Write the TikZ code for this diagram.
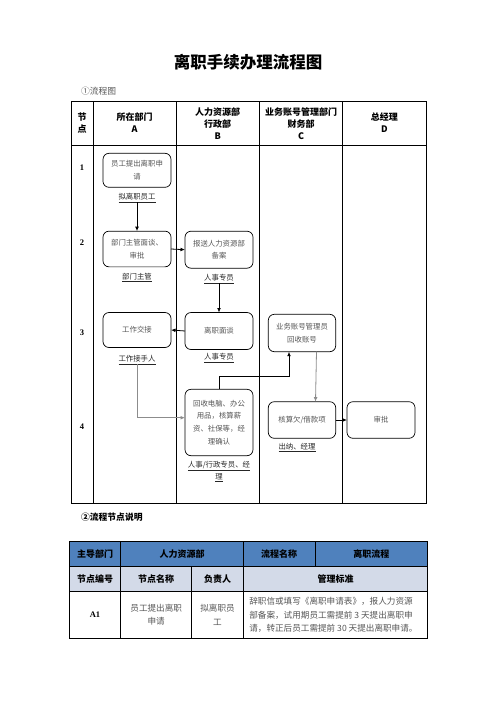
\documentclass[tikz,border=0pt]{standalone}
\usepackage{fontspec}
\setmainfont{Liberation Serif}
\newfontfamily\cjk{Noto Sans CJK SC}
\usetikzlibrary{arrows.meta}
\definecolor{hdrblue}{HTML}{4F81BD}
\definecolor{hdrlight}{HTML}{D3DAE8}
\definecolor{boxtext}{HTML}{555555}
\begin{document}
\begin{tikzpicture}[x=1pt,y=-1pt,
  every node/.style={inner sep=0pt, outer sep=0pt},
  flowbox/.style={draw, rounded corners=6pt, line width=0.7pt, text=boxtext,
    font=\cjk\fontsize{7.4}{12.8}\selectfont, align=center,
    minimum width=68pt},
  who/.style={font=\cjk\fontsize{7.4}{12.8}\selectfont, align=center, text=black!85},
  hdr/.style={font=\cjk\bfseries\fontsize{9}{12}\selectfont, align=center},
  num/.style={font=\bfseries\fontsize{8.5}{10}\selectfont},
  conn/.style={line width=0.8pt, -{Latex[length=4.5pt,width=3.8pt]}},
  gconn/.style={conn, draw=black!45},
  tline/.style={line width=0.8pt},
  cell/.style={font=\cjk\bfseries\fontsize{9}{12}\selectfont, align=center},
  celltxt/.style={font=\cjk\fontsize{8.6}{13.3}\selectfont, align=center, text=boxtext}
]
\useasboundingbox (0,0) rectangle (496,702);

% title
\node[font=\cjk\bfseries\fontsize{16.5}{18}\selectfont] (title) at (248,62) {离职手续办理流程图};
\node[anchor=west, font=\cjk\fontsize{8.8}{10}\selectfont, text=black!65] (sec1) at (81,91) {①流程图};

% top table
\draw[tline] (71,101) rectangle (426,503);
\foreach \x in {93.3,176,259.5,342.7} \draw[tline] (\x,101) -- (\x,503);
\draw[tline] (71,145) -- (426,145);

\node[hdr] (h0) at (82,123) {节\\点};
\node[hdr] (h1) at (134.6,122.5) {所在部门\\\bfseries A};
\node[hdr] (h2) at (217.7,123.5) {人力资源部\\行政部\\\bfseries B};
\node[hdr] (h3) at (301,123.5) {业务账号管理部门\\财务部\\\bfseries C};
\node[hdr] (h4) at (384.3,122.5) {总经理\\\bfseries D};

\node[num] (r1) at (82,168) {1};
\node[num] (r2) at (82,243) {2};
\node[num] (r3) at (82,333) {3};
\node[num] (r4) at (82,427) {4};

% boxes
\node[flowbox, minimum height=34pt] (b1) at (137,170.3) {员工提出离职申\\请};
\node[flowbox, minimum height=35.7pt] (b2) at (137,249) {部门主管面谈、\\审批};
\node[flowbox, minimum height=37pt] (b3) at (219,249.7) {报送人力资源部\\备案};
\node[flowbox, minimum height=37pt] (b4) at (219,331) {离职面谈};
\node[flowbox, minimum height=35pt] (b5) at (137,330) {工作交接};
\node[flowbox, minimum width=67.4pt, minimum height=37.4pt] (b6) at (302,333) {业务账号管理员\\回收账号};
\node[flowbox, minimum height=66.4pt] (b7) at (219,422.5) {回收电脑、办公\\用品，核算薪\\资、社保等，经\\理确认};
\node[flowbox, minimum width=67.4pt, minimum height=36.6pt] (b8) at (302,420) {核算欠/借款项};
\node[flowbox, minimum height=36.6pt] (b9) at (381,420) {审批};

% responsible labels
\node[who] (l1) at (137,198) {\underline{拟离职员工}};
\node[who] (l2) at (137,277.5) {\underline{部门主管}};
\node[who] (l3) at (219,279) {\underline{人事专员}};
\node[who] (l4) at (219,358) {\underline{人事专员}};
\node[who] (l5) at (137,360) {\underline{工作接手人}};
\node[who] (l7) at (219,471.5) {\underline{人事/行政专员、经}\\\underline{理}};
\node[who] (l8) at (297,447.3) {\underline{出纳、经理}};

% connectors
\draw[conn] (l1.south) -- (b2.north);
\draw[conn] (b2.east) -- (b3.west);
\draw[conn] (l3.south) -- (b4.north);
\draw[conn] (b4.west) -- (b5.east);
\draw[gconn] (l5.south) |- ([yshift=4.8pt]b7.west);
\draw[conn] (b7.north) -- ++(0,-12.5) -| ([xshift=-13pt]b6.south);
\draw[gconn] ([xshift=14.5pt]b6.south) -- ([xshift=13.5pt]b8.north);
\draw[conn] (b8.east) -- (b9.west);

% section 2
\node[anchor=west, font=\cjk\bfseries\fontsize{8.8}{10}\selectfont] (sec2) at (81,517) {②流程节点说明};

\fill[hdrblue] (69.3,541.7) rectangle (427.7,566);
\fill[hdrlight] (69.3,566) rectangle (427.7,591.7);
\draw[tline] (69.3,541.7) rectangle (427.7,638.3);
\draw[tline] (69.3,566) -- (427.7,566);
\draw[tline] (69.3,591.7) -- (427.7,591.7);
\foreach \x in {120.7,243.3} \draw[tline] (\x,541.7) -- (\x,638.3);
\draw[tline] (315,541.7) -- (315,566);
\draw[tline] (191.7,566) -- (191.7,638.3);

\node[cell] (c11) at (95,554) {主导部门};
\node[cell] (c12) at (182,554) {人力资源部};
\node[cell] (c13) at (279.2,554) {流程名称};
\node[cell] (c14) at (371.3,554) {离职流程};
\node[cell] (c21) at (95,579) {节点编号};
\node[cell] (c22) at (156.2,579) {节点名称};
\node[cell] (c23) at (217.5,579) {负责人};
\node[cell] (c24) at (335.5,579) {管理标准};
\node[font=\bfseries\fontsize{8.5}{10}\selectfont] (c31) at (95,615) {A1};
\node[celltxt] (c32) at (156.2,615) {员工提出离职\\申请};
\node[celltxt] (c33) at (217.5,615) {拟离职员\\工};
\node[celltxt, anchor=west, align=left] (c34) at (249.3,615)
  {辞职信或填写《离职申请表》，报人力资源\\部备案，试用期员工需提前 3 天提出离职申\\请，转正后员工需提前 30 天提出离职申请。};
\end{tikzpicture}
\end{document}
